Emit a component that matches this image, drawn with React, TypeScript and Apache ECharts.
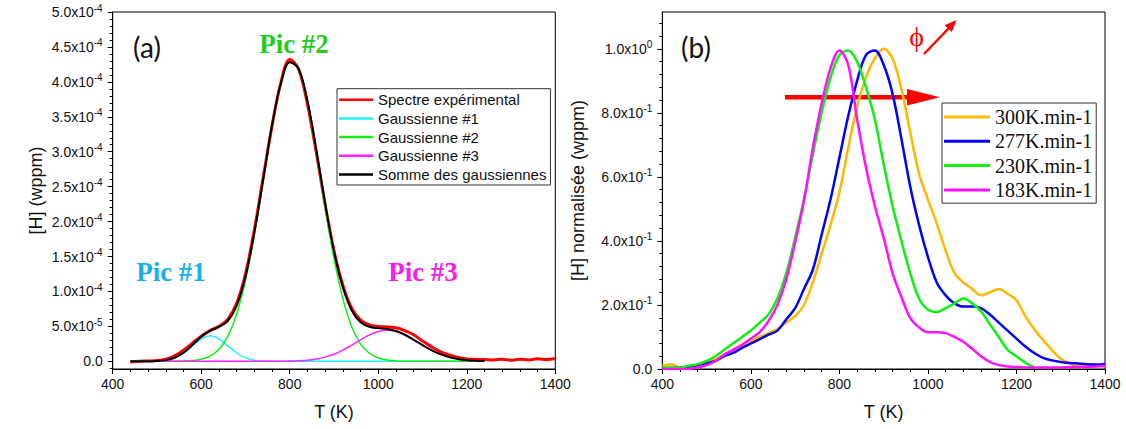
import React, { useEffect, useRef } from 'react';
import * as echarts from 'echarts';

// ---------- Panel (a) data : [H] in units of 1e-5 wppm ----------
const T_LEFT = [440,460,480,500,520,540,560,580,600,620,640,660,680,700,720,740,760,780,800,820,840,860,880,900,920,940,960,980,1000,1020,1040,1060,1080,1100,1120,1140,1160,1180,1200,1220,1240,1260,1280,1300,1320,1340,1360,1380,1400];
const SPECTRE = [-0.1,0.0,0.05,0.1,0.3,0.8,1.6,2.6,3.6,
  4.4,5.0,6.0,8.3,12.5,18.8,26.3,33.7,39.9,43.2,
  41.8,36.8,29.9,22.4,15.8,10.9,7.6,5.9,5.2,5.0,
  4.9,4.8,4.4,3.8,2.9,2.1,1.4,0.9,0.55,0.35,
  0.3,0.25,0.2,0.3,0.15,0.3,0.2,0.35,0.25,0.4];
const GAUSS1 = [0,0,0.01,0.04,0.16,0.49,1.19,2.21,3.22,
  3.65,3.22,2.21,1.19,0.49,0.16,0.04,0.01,0,0,
  0,0,0,0,0,0,0,0,0,0,
  0,0,0,0,0,0,0,0,0,0,
  0,0,null,null,null,null,null,null,null,null];
const GAUSS2 = [0,0,0,0,0.01,0.02,0.04,0.11,0.30,
  0.75,1.71,3.56,6.75,11.6,18.2,26.0,33.8,39.8,42.8,
  41.8,37.1,30.0,22.0,14.7,8.97,4.96,2.50,1.15,0.48,
  0.18,0.06,0.02,0,0,0,0,0,0,0,
  0,0,null,null,null,null,null,null,null,null];
const GAUSS3 = [0,0,0,0,0,0,0,0,0,
  0,0,0,0,0,0,0,0,0,0.03,
  0.08,0.16,0.33,0.60,1.02,1.60,2.32,3.08,3.78,4.27,
  4.45,4.27,3.78,3.08,2.32,1.60,1.02,0.60,0.33,0.16,
  0.08,0.03,null,null,null,null,null,null,null,null];
const SOMME = [0,0,0.01,0.04,0.17,0.51,1.23,2.32,3.52,
  4.40,4.93,5.77,7.94,12.1,18.4,26.0,33.8,39.8,42.8,
  41.9,37.3,30.3,22.6,15.7,10.6,7.28,5.58,4.93,4.75,
  4.63,4.33,3.80,3.08,2.32,1.60,1.02,0.60,0.33,0.16,
  0.08,0.03,null,null,null,null,null,null,null,null];

// ---------- Panel (b) data : normalised [H] ----------
const T_RIGHT = [400,420,440,460,480,500,520,540,560,580,600,620,640,660,680,700,720,740,760,780,800,820,840,860,880,900,920,940,960,980,1000,1020,1040,1060,1080,1100,1120,1140,1160,1180,1200,1220,1240,1260,1280,1300,1320,1340,1360,1380,1400];
const R300 = [0.01,0.015,0.005,0.008,0.012,0.018,0.03,0.045,0.06,0.077,
  0.088,0.1,0.112,0.125,0.145,0.165,0.2,0.27,0.36,0.45,
  0.55,0.69,0.82,0.91,0.97,1.0,0.97,0.875,0.74,0.61,
  0.53,0.455,0.37,0.3,0.27,0.25,0.23,0.24,0.25,0.235,
  0.215,0.165,0.125,0.09,0.06,0.032,0.018,0.01,0.01,0.01,
  0.008];
const R277 = [0.0,0.003,0.005,0.008,0.012,0.018,0.025,0.04,0.05,0.066,
  0.08,0.093,0.107,0.12,0.155,0.19,0.25,0.31,0.42,0.53,
  0.66,0.79,0.9,0.98,0.995,0.95,0.86,0.72,0.57,0.45,
  0.35,0.27,0.23,0.205,0.195,0.195,0.19,0.17,0.145,0.12,
  0.095,0.07,0.05,0.035,0.027,0.022,0.019,0.017,0.015,0.014,
  0.016];
const R230 = [0.005,0.005,0.005,0.01,0.015,0.025,0.04,0.06,0.08,0.1,
  0.12,0.145,0.17,0.22,0.3,0.41,0.53,0.67,0.8,0.91,
  0.98,0.995,0.96,0.88,0.78,0.64,0.51,0.4,0.3,0.22,
  0.185,0.178,0.19,0.205,0.22,0.205,0.18,0.14,0.1,0.06,
  0.04,0.02,0.005,null,null,null,null,null,null,null,
  null];
const R183 = [0,0,0,0,0.005,0.012,0.025,0.045,0.06,0.075,
  0.095,0.115,0.15,0.2,0.28,0.395,0.525,0.69,0.83,0.94,
  0.995,0.95,0.78,0.63,0.51,0.41,0.3,0.225,0.16,0.13,
  0.115,0.115,0.112,0.1,0.085,0.063,0.04,0.022,0.012,0.008,
  0.006,0.005,0.005,0.005,0.005,0.005,0.006,0.006,0.007,0.008,
  0.01];

// ---------- tick labels ----------
const X_TICKS = [400, 600, 800, 1000, 1200, 1400];
const X_LABELS = ['400', '600', '800', '1000', '1200', '1400'];
const LEFT_Y_TICKS = [0, 5, 10, 15, 20, 25, 30, 35, 40, 45, 50];
const LEFT_Y_LABELS = ['0.0','5.0x10^-5','1.0x10^-4','1.5x10^-4','2.0x10^-4','2.5x10^-4','3.0x10^-4','3.5x10^-4','4.0x10^-4','4.5x10^-4','5.0x10^-4'];
const RIGHT_Y_TICKS = [0, 0.2, 0.4, 0.6, 0.8, 1.0];
const RIGHT_Y_LABELS = ['0.0','2.0x10^-1','4.0x10^-1','6.0x10^-1','8.0x10^-1','1.0x10^0'];

const LEFT_NAMES = ['Spectre expérimental','Gaussienne #1','Gaussienne #2','Gaussienne #3','Somme des gaussiennes'];
const RIGHT_NAMES = ['300K.min-1','277K.min-1','230K.min-1','183K.min-1'];

const SANS = 'Liberation Sans, Arial, sans-serif';
const SERIF = 'Liberation Serif, Times New Roman, serif';

function pairs(xs: number[], ys: (number | null)[]) {
  const out: number[][] = [];
  xs.forEach((x, i) => { const y = ys[i]; if (y !== null && y !== undefined) out.push([x, y]); });
  return out;
}

function supFormatter(ticks: number[], labels: string[]) {
  return (v: number) => {
    const i = ticks.findIndex((t) => Math.abs(t - v) < 1e-6);
    if (i < 0) return '';
    const [m, e] = labels[i].split('^');
    return e !== undefined ? `{m|${m}}{s|${e}}` : `{m|${m}}`;
  };
}

function xFormatter(v: number) {
  const i = X_TICKS.findIndex((t) => Math.abs(t - v) < 1e-6);
  return i < 0 ? '' : X_LABELS[i];
}

const rich = {
  m: { fontSize: 14, fontFamily: SANS, color: '#111', lineHeight: 18 },
  s: { fontSize: 10, fontFamily: SANS, color: '#111', lineHeight: 8, verticalAlign: 'top' },
};

function minorList(min: number, max: number, step: number, major: number) {
  const out: number[] = [];
  const n0 = Math.ceil(min / step - 1e-9);
  const n1 = Math.floor(max / step + 1e-9);
  for (let k = n0; k <= n1; k++) {
    const v = +(k * step).toFixed(6);
    if (Math.abs(v / major - Math.round(v / major)) > 1e-6) out.push(v);
  }
  return out;
}

const LEFT_MIN = -1.1, LEFT_MAX = 50;
const RIGHT_MIN = 0, RIGHT_MAX = 1.115;

function xAxisCfg(gridIndex: number) {
  return {
    type: 'value', gridIndex, min: 400, max: 1400, interval: 200,
    axisLine: { show: true, onZero: false, lineStyle: { color: '#000', width: 1 } },
    axisTick: { show: true, length: 5, lineStyle: { color: '#000' } },
    minorTick: { show: true, splitNumber: 5, length: 3, lineStyle: { color: '#000' } },
    splitLine: { show: false }, minorSplitLine: { show: false },
    axisLabel: { margin: 8, fontSize: 14, fontFamily: SANS, color: '#111', customValues: X_TICKS, formatter: xFormatter },
    name: 'T (K)', nameLocation: 'middle', nameGap: 34,
    nameTextStyle: { fontSize: 18, fontFamily: SANS, color: '#111' },
  };
}

function lineSeries(name: string, xi: number, xs: number[], ys: (number | null)[], color: string, width: number) {
  return {
    type: 'line', name, xAxisIndex: xi, yAxisIndex: xi === 0 ? 0 : 2,
    data: pairs(xs, ys), symbol: 'none', showSymbol: false, smooth: 0.35,
    lineStyle: { color, width }, itemStyle: { color },
  };
}

export default function App() {
  const ref = useRef<HTMLDivElement>(null);
  useEffect(() => {
    const chart = echarts.init(ref.current!, null, { renderer: 'svg' });
    const option: any = {
      animation: false,
      backgroundColor: '#fff',
      grid: [
        { left: 112.7, top: 12, width: 442.6, height: 357, show: true, borderColor: '#000', borderWidth: 1, backgroundColor: 'transparent' },
        { left: 662.3, top: 12, width: 442.7, height: 357, show: true, borderColor: '#000', borderWidth: 1, backgroundColor: 'transparent' },
      ],
      xAxis: [xAxisCfg(0), xAxisCfg(1)],
      yAxis: [
        {
          type: 'value', gridIndex: 0, position: 'left', min: LEFT_MIN, max: LEFT_MAX,
          axisLine: { show: true, onZero: false, lineStyle: { color: '#000' } },
          axisTick: { show: true, length: 5, customValues: LEFT_Y_TICKS, lineStyle: { color: '#000' } },
          axisLabel: { margin: 10, customValues: LEFT_Y_TICKS, formatter: supFormatter(LEFT_Y_TICKS, LEFT_Y_LABELS), rich },
          splitLine: { show: false },
          name: '[H] (wppm)', nameLocation: 'middle', nameGap: 68,
          nameTextStyle: { fontSize: 18, fontFamily: SANS, color: '#111' },
        },
        {
          type: 'value', gridIndex: 0, position: 'left', min: LEFT_MIN, max: LEFT_MAX,
          axisLine: { show: false },
          axisTick: { show: true, length: 3, customValues: minorList(LEFT_MIN, LEFT_MAX, 1, 5), lineStyle: { color: '#000' } },
          axisLabel: { show: false }, splitLine: { show: false },
        },
        {
          type: 'value', gridIndex: 1, position: 'left', min: RIGHT_MIN, max: RIGHT_MAX,
          axisLine: { show: true, onZero: false, lineStyle: { color: '#000' } },
          axisTick: { show: true, length: 5, customValues: RIGHT_Y_TICKS, lineStyle: { color: '#000' } },
          axisLabel: { margin: 10, customValues: RIGHT_Y_TICKS, formatter: supFormatter(RIGHT_Y_TICKS, RIGHT_Y_LABELS), rich },
          splitLine: { show: false },
          name: '[H] normalisée (wppm)', nameLocation: 'middle', nameGap: 75,
          nameTextStyle: { fontSize: 18, fontFamily: SANS, color: '#111' },
        },
        {
          type: 'value', gridIndex: 1, position: 'left', min: RIGHT_MIN, max: RIGHT_MAX,
          axisLine: { show: false },
          axisTick: { show: true, length: 3, customValues: minorList(RIGHT_MIN, RIGHT_MAX, 0.04, 0.2), lineStyle: { color: '#000' } },
          axisLabel: { show: false }, splitLine: { show: false },
        },
      ],
      legend: [
        {
          data: LEFT_NAMES, orient: 'vertical', left: 337, top: 88.7, icon: 'rect',
          itemWidth: 34, itemHeight: 2.5, itemGap: 3.7, padding: [3.5, 4, 3, 2],
          borderColor: '#333', borderWidth: 1, backgroundColor: '#fff',
          textStyle: { fontSize: 15, fontFamily: SANS, color: '#111', lineHeight: 15 },
          selectedMode: false,
        },
        {
          data: RIGHT_NAMES, orient: 'vertical', left: 942, top: 103, icon: 'rect',
          itemWidth: 46, itemHeight: 3, itemGap: 4.3, padding: [4, 4, 3.3, 2],
          borderColor: '#333', borderWidth: 1, backgroundColor: '#fff',
          textStyle: { fontSize: 20, fontFamily: SERIF, color: '#111', lineHeight: 20 },
          selectedMode: false,
        },
      ],
      series: [
        lineSeries(LEFT_NAMES[0], 0, T_LEFT, SPECTRE, '#ff0000', 3),
        lineSeries(LEFT_NAMES[1], 0, T_LEFT, GAUSS1, '#22eeff', 1.5),
        lineSeries(LEFT_NAMES[2], 0, T_LEFT, GAUSS2, '#11ee11', 1.5),
        lineSeries(LEFT_NAMES[3], 0, T_LEFT, GAUSS3, '#ff22ff', 1.5),
        lineSeries(LEFT_NAMES[4], 0, T_LEFT, SOMME, '#000000', 2),
        lineSeries(RIGHT_NAMES[0], 1, T_RIGHT, R300, '#ffb800', 2.5),
        lineSeries(RIGHT_NAMES[1], 1, T_RIGHT, R277, '#0000ff', 2.5),
        lineSeries(RIGHT_NAMES[2], 1, T_RIGHT, R230, '#11ee11', 2.5),
        lineSeries(RIGHT_NAMES[3], 1, T_RIGHT, R183, '#ff11ff', 2.5),
      ],
      graphic: [
        { type: 'text', x: 147, y: 47, style: { text: '(a)', font: '28px Lato, sans-serif', fill: '#111', align: 'center', verticalAlign: 'middle' } },
        { type: 'text', x: 696, y: 47, style: { text: '(b)', font: '28px Lato, sans-serif', fill: '#111', align: 'center', verticalAlign: 'middle' } },
        { type: 'text', x: 294, y: 44, style: { text: 'Pic #2', font: 'bold 27px Liberation Serif, serif', fill: '#22cc22', align: 'center', verticalAlign: 'middle' } },
        { type: 'text', x: 171, y: 272, style: { text: 'Pic #1', font: 'bold 27px Liberation Serif, serif', fill: '#18b0ec', align: 'center', verticalAlign: 'middle' } },
        { type: 'text', x: 423, y: 272, style: { text: 'Pic #3', font: 'bold 27px Liberation Serif, serif', fill: '#f020f0', align: 'center', verticalAlign: 'middle' } },
        { type: 'line', shape: { x1: 785, y1: 97.3, x2: 910, y2: 97.3 }, style: { stroke: '#ff0000', lineWidth: 4.5 } },
        { type: 'polygon', shape: { points: [[907, 89], [940, 97.3], [907, 105.6]] }, style: { fill: '#ff0000' } },
        { type: 'text', x: 916.5, y: 36, style: { text: 'ϕ', font: '28px Liberation Serif, serif', fill: '#ff0000', align: 'center', verticalAlign: 'middle' } },
        { type: 'line', shape: { x1: 924, y1: 54, x2: 949, y2: 28 }, style: { stroke: '#ff0000', lineWidth: 2.5 } },
        { type: 'polygon', shape: { points: [[956.5, 20], [951.8, 32], [944.6, 25.3]] }, style: { fill: '#ff0000' } },
      ],
    };
    chart.setOption(option);
    return () => chart.dispose();
  }, []);
  return <div ref={ref} style={{ position: 'absolute', left: 0, top: 0, width: 1126, height: 429 }} />;
}
